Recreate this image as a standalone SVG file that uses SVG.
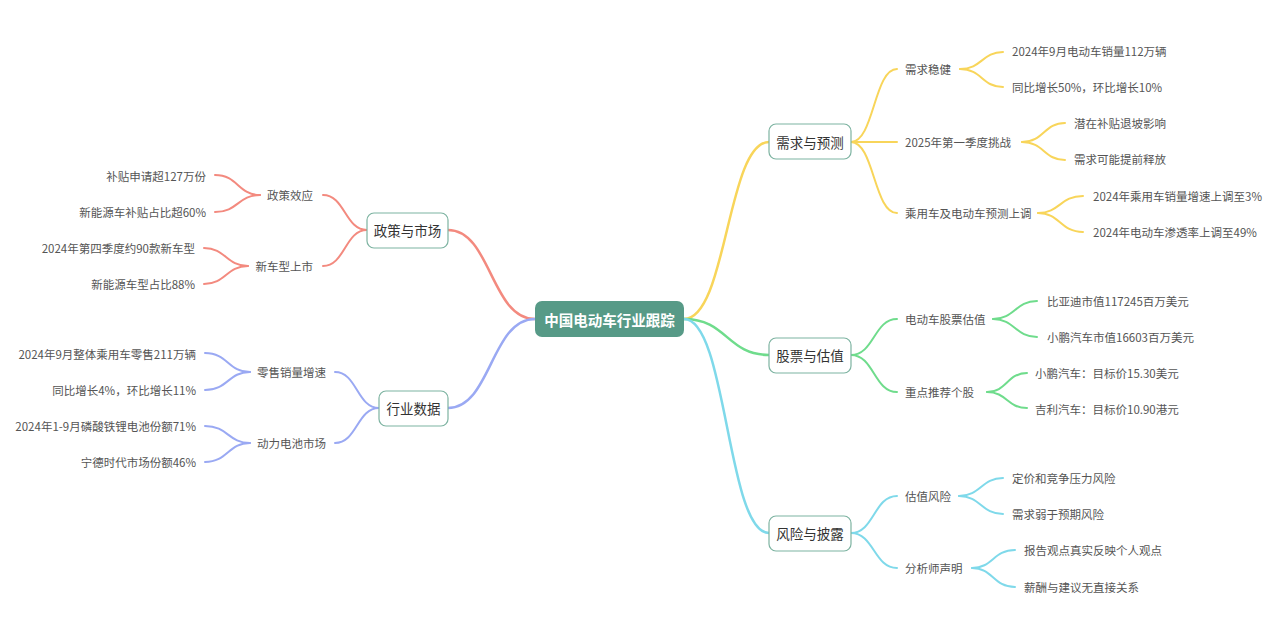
<svg xmlns="http://www.w3.org/2000/svg" width="1280" height="640" viewBox="0 0 1280 640">
<style>
text{font-family:"Noto Sans CJK SC","Liberation Sans",sans-serif;dominant-baseline:central}
.l1 rect{fill:#fff;stroke:#7db3a1;stroke-width:1.2}
.l1 text{font-size:13.500px;fill:#333;text-anchor:middle}
.t{font-size:11.500px;fill:#555}
.r{text-anchor:end}
.c{fill:none;stroke-linecap:round}
.y{stroke:#f8d55a}.g{stroke:#6fdc8c}.b{stroke:#7fd9ea}.s{stroke:#f38a7f}.v{stroke:#9aa9f3}
.w1{stroke-width:2.5}.w2{stroke-width:2}
</style>
<rect width="1280" height="640" fill="#fff"/>
<g id="connectors">
<path class="c y w1" d="M684,319 C727,319 727,142 769,142"/>
<path class="c g w1" d="M684,319 C727,319 727,355 769,355"/>
<path class="c b w1" d="M684,319 C727,319 727,533 769,533"/>
<path class="c s w1" d="M535,319 C491,319 491,230 448,230"/>
<path class="c v w1" d="M535,319 C491,319 491,408 448,408"/>
<path class="c y w2" d="M851,142 C874,142 874,69 897,69"/>
<path class="c y w2" d="M851,142 L897,142"/>
<path class="c y w2" d="M851,142 C874,142 874,213 897,213"/>
<path class="c y w2" d="M960,69 C982,69 982,52 1003,52"/>
<path class="c y w2" d="M960,69 C982,69 982,87 1003,87"/>
<path class="c y w2" d="M1022,142 C1044,142 1044,123 1065,123"/>
<path class="c y w2" d="M1022,142 C1044,142 1044,160 1065,160"/>
<path class="c y w2" d="M1038,213 C1060,213 1060,196 1083,196"/>
<path class="c y w2" d="M1038,213 C1060,213 1060,232 1083,232"/>
<path class="c g w2" d="M851,355 C874,355 874,319 897,319"/>
<path class="c g w2" d="M851,355 C874,355 874,392 897,392"/>
<path class="c g w2" d="M993,319 C1015,319 1015,301 1037,301"/>
<path class="c g w2" d="M993,319 C1015,319 1015,337 1037,337"/>
<path class="c g w2" d="M987,392 C1007,392 1007,373 1027,373"/>
<path class="c g w2" d="M987,392 C1007,392 1007,408 1027,408"/>
<path class="c b w2" d="M851,533 C874,533 874,496 897,496"/>
<path class="c b w2" d="M851,533 C874,533 874,568 897,568"/>
<path class="c b w2" d="M959,496 C981,496 981,478 1003,478"/>
<path class="c b w2" d="M959,496 C981,496 981,514 1003,514"/>
<path class="c b w2" d="M972,568 C993,568 993,550 1015,550"/>
<path class="c b w2" d="M972,568 C993,568 993,587 1015,587"/>
<path class="c s w2" d="M367,230 C345,230 345,195 323,195"/>
<path class="c s w2" d="M367,230 C345,230 345,266 323,266"/>
<path class="c s w2" d="M260,195 C238,195 238,175 215,175"/>
<path class="c s w2" d="M260,195 C238,195 238,212 215,212"/>
<path class="c s w2" d="M248,266 C226,266 226,248 204,248"/>
<path class="c s w2" d="M248,266 C226,266 226,284 204,284"/>
<path class="c v w2" d="M379,408 C357,408 357,372 335,372"/>
<path class="c v w2" d="M379,408 C357,408 357,443 335,443"/>
<path class="c v w2" d="M250,372 C228,372 228,353 205,353"/>
<path class="c v w2" d="M250,372 C228,372 228,390 205,390"/>
<path class="c v w2" d="M250,443 C228,443 228,426 205,426"/>
<path class="c v w2" d="M250,443 C228,443 228,462 205,462"/>
</g>
<g id="root">
<rect x="535" y="301" width="149" height="36" rx="7" fill="#579a87"/>
<text x="609.500" y="319" font-size="14.500" font-weight="bold" fill="#fff" text-anchor="middle">中国电动车行业跟踪</text>
</g>
<g id="n-demand" class="l1"><rect x="769" y="124" width="82" height="35" rx="7"/><text x="810" y="142">需求与预测</text></g>
<g id="n-stock" class="l1"><rect x="769" y="338" width="82" height="35" rx="7"/><text x="810" y="355">股票与估值</text></g>
<g id="n-risk" class="l1"><rect x="769" y="516" width="82" height="35" rx="7"/><text x="810" y="533">风险与披露</text></g>
<g id="n-policy" class="l1"><rect x="367" y="213" width="81" height="35" rx="7"/><text x="407.500" y="230">政策与市场</text></g>
<g id="n-industry" class="l1"><rect x="379" y="391" width="69" height="35" rx="7"/><text x="413.500" y="408">行业数据</text></g>
<g id="n-d1"><text class="t" x="905" y="69">需求稳健</text></g>
<g id="n-d1a"><text class="t" x="1012" y="51">2024年9月电动车销量112万辆</text></g>
<g id="n-d1b"><text class="t" x="1012" y="87">同比增长50%，环比增长10%</text></g>
<g id="n-d2"><text class="t" x="905" y="142">2025年第一季度挑战</text></g>
<g id="n-d2a"><text class="t" x="1074" y="123">潜在补贴退坡影响</text></g>
<g id="n-d2b"><text class="t" x="1074" y="159">需求可能提前释放</text></g>
<g id="n-d3"><text class="t" x="905" y="213">乘用车及电动车预测上调</text></g>
<g id="n-d3a"><text class="t" x="1093" y="196">2024年乘用车销量增速上调至3%</text></g>
<g id="n-d3b"><text class="t" x="1093" y="232">2024年电动车渗透率上调至49%</text></g>
<g id="n-s1"><text class="t" x="905" y="319">电动车股票估值</text></g>
<g id="n-s1a"><text class="t" x="1047" y="301">比亚迪市值117245百万美元</text></g>
<g id="n-s1b"><text class="t" x="1047" y="337">小鹏汽车市值16603百万美元</text></g>
<g id="n-s2"><text class="t" x="905" y="392">重点推荐个股</text></g>
<g id="n-s2a"><text class="t" x="1035" y="373">小鹏汽车：目标价15.30美元</text></g>
<g id="n-s2b"><text class="t" x="1035" y="409">吉利汽车：目标价10.90港元</text></g>
<g id="n-r1"><text class="t" x="905" y="496">估值风险</text></g>
<g id="n-r1a"><text class="t" x="1012" y="478">定价和竞争压力风险</text></g>
<g id="n-r1b"><text class="t" x="1012" y="514">需求弱于预期风险</text></g>
<g id="n-r2"><text class="t" x="905" y="568">分析师声明</text></g>
<g id="n-r2a"><text class="t" x="1024" y="550">报告观点真实反映个人观点</text></g>
<g id="n-r2b"><text class="t" x="1024" y="587">薪酬与建议无直接关系</text></g>
<g id="n-p1"><text class="t r" x="313" y="195">政策效应</text></g>
<g id="n-p1a"><text class="t r" x="206" y="176">补贴申请超127万份</text></g>
<g id="n-p1b"><text class="t r" x="206" y="212">新能源车补贴占比超60%</text></g>
<g id="n-p2"><text class="t r" x="313" y="266">新车型上市</text></g>
<g id="n-p2a"><text class="t r" x="195" y="248">2024年第四季度约90款新车型</text></g>
<g id="n-p2b"><text class="t r" x="195" y="284">新能源车型占比88%</text></g>
<g id="n-i1"><text class="t r" x="326" y="372">零售销量增速</text></g>
<g id="n-i1a"><text class="t r" x="196" y="354">2024年9月整体乘用车零售211万辆</text></g>
<g id="n-i1b"><text class="t r" x="196" y="390">同比增长4%，环比增长11%</text></g>
<g id="n-i2"><text class="t r" x="326" y="443">动力电池市场</text></g>
<g id="n-i2a"><text class="t r" x="196" y="426">2024年1-9月磷酸铁锂电池份额71%</text></g>
<g id="n-i2b"><text class="t r" x="196" y="462">宁德时代市场份额46%</text></g>
</svg>
